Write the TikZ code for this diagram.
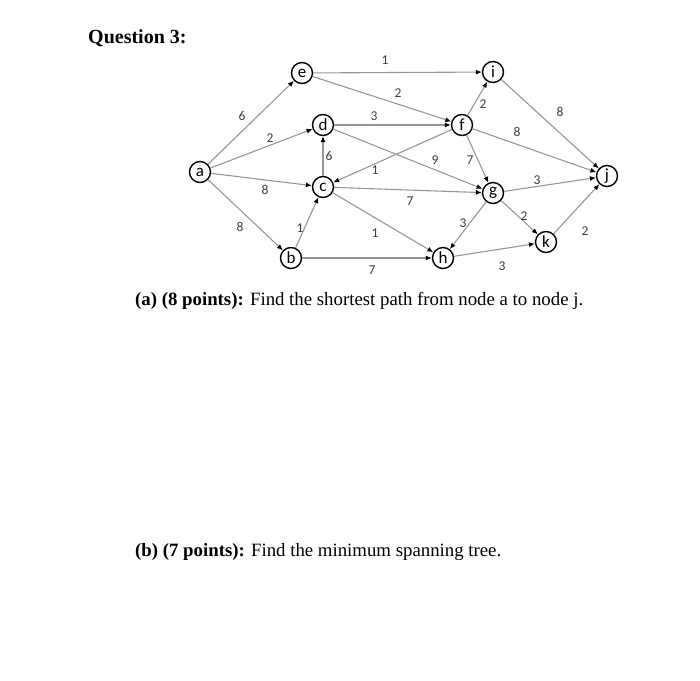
\documentclass[tikz,border=0pt]{standalone}
\usepackage{fontspec}
\setmainfont{Liberation Serif}
\newfontfamily\lblfont{Carlito}
\usetikzlibrary{arrows.meta}
\definecolor{edgegray}{RGB}{150,150,150}
\definecolor{wtgray}{RGB}{60,60,60}

\begin{document}
\begin{tikzpicture}[x=1pt,y=-1pt,
  vertex/.style={circle, draw, line width=1.4pt, minimum size=21pt, inner sep=0pt,
    font=\lblfont\fontsize{17}{17}\selectfont},
  edge/.style={draw=edgegray, line width=1.1pt, -{Latex[length=6pt,width=5pt,color=black]}},
  wt/.style={font=\lblfont\fontsize{13.5}{13.5}\selectfont, text=wtgray, inner sep=1pt},
  qtext/.style={anchor=base west, inner sep=0pt}]
\useasboundingbox (0,0) rectangle (700,680);

% texts
\node[qtext] (qtitle) at (88,43) {\fontsize{20}{24}\selectfont\bfseries Question 3:};
\node[qtext] (qparta) at (135,305) {\fontsize{18.8}{22}\selectfont\textbf{(a) (8 points):} Find the shortest path from node a to node j.};
\node[qtext] (qpartb) at (135,556) {\fontsize{18.8}{22}\selectfont\textbf{(b) (7 points):} Find the minimum spanning tree.};

% vertices
\node[vertex] (a) at (200,172) {a};
\node[vertex] (e) at (302,73) {e};
\node[vertex] (d) at (323,125) {d};
\node[vertex] (c) at (323,187) {c};
\node[vertex] (b) at (291,258) {b};
\node[vertex] (i) at (493,72) {i};
\node[vertex] (f) at (462,125) {f};
\node[vertex] (g) at (493,193) {g};
\node[vertex] (h) at (443,258) {h};
\node[vertex] (k) at (546,242) {k};
\node[vertex] (j) at (607,176) {j};

% edges
\draw[edge] (a) -- (e);
\draw[edge] (a) -- (d);
\draw[edge] (a) -- (c);
\draw[edge] (a) -- (b);
\draw[edge] (b) -- (c);
\draw[edge] (b) -- (h);
\draw[edge] (c) -- (d);
\draw[edge] (f) -- (c);
\draw[edge] (c) -- (g);
\draw[edge] (c) -- (h);
\draw[edge] (d) -- (f);
\draw[edge] (d) -- (g);
\draw[edge] (e) -- (i);
\draw[edge] (e) -- (f);
\draw[edge] (f) -- (i);
\draw[edge] (f) -- (g);
\draw[edge] (f) -- (j);
\draw[edge] (i) -- (j);
\draw[edge] (g) -- (j);
\draw[edge] (g) -- (k);
\draw[edge] (g) -- (h);
\draw[edge] (h) -- (k);
\draw[edge] (k) -- (j);

% weights
\node[wt] (wae) at (242,116) {6};
\node[wt] (wad) at (270,138) {2};
\node[wt] (wac) at (265,190) {8};
\node[wt] (wab) at (240,227) {8};
\node[wt] (wbc) at (300,228) {1};
\node[wt] (wbh) at (372,270) {7};
\node[wt] (wcd) at (329,156) {6};
\node[wt] (wfc) at (375,170) {1};
\node[wt] (wcg) at (410,201) {7};
\node[wt] (wch) at (375,233) {1};
\node[wt] (wdf) at (374,116) {3};
\node[wt] (wdg) at (435,160) {9};
\node[wt] (wei) at (385,60) {1};
\node[wt] (wef) at (398,93) {2};
\node[wt] (wfi) at (483,104) {2};
\node[wt] (wfg) at (470,160) {7};
\node[wt] (wfj) at (517,132) {8};
\node[wt] (wij) at (560,112) {8};
\node[wt] (wgj) at (537,180) {3};
\node[wt] (wgk) at (524,216) {2};
\node[wt] (wgh) at (463,223) {3};
\node[wt] (whk) at (502,266) {3};
\node[wt] (wkj) at (585,231) {2};
\end{tikzpicture}
\end{document}
